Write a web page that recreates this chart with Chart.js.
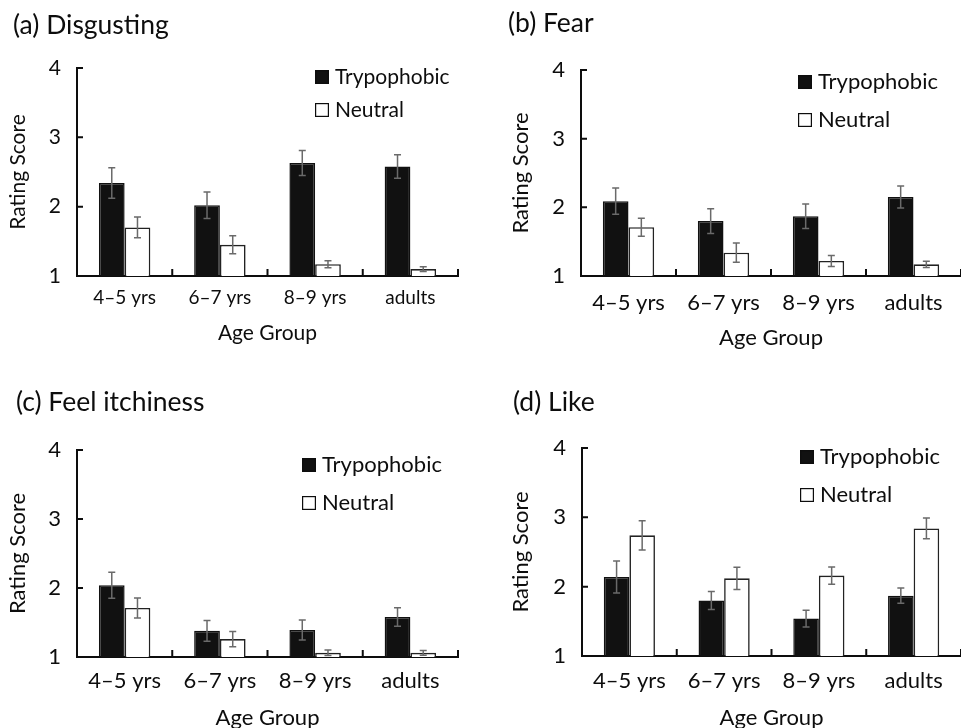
<!DOCTYPE html>
<html>
<head>
<meta charset="utf-8">
<script src="https://cdn.jsdelivr.net/npm/chart.js@4.4.1/dist/chart.umd.min.js"></script>
<style>
html,body{margin:0;padding:0;background:#fff;}
body{width:961px;height:728px;position:relative;overflow:hidden;}
.panel{position:absolute;}
canvas{display:block;}
</style>
</head>
<body>
<div class="panel" style="left:0;top:0;"><canvas id="cA" width="480" height="360"></canvas></div>
<div class="panel" style="left:480px;top:0;"><canvas id="cB" width="481" height="360"></canvas></div>
<div class="panel" style="left:0;top:360px;"><canvas id="cC" width="480" height="368"></canvas></div>
<div class="panel" style="left:480px;top:360px;"><canvas id="cD" width="481" height="368"></canvas></div>
<script>
// ---- data ----
const categories = ['4–5 yrs', '6–7 yrs', '8–9 yrs', 'adults'];
const seriesNames = ['Trypophobic', 'Neutral'];
const yTicks = [1, 2, 3, 4];
const xAxisTitle = 'Age Group';
const yAxisTitle = 'Rating Score';

const disgustTryp    = [2.34, 2.02, 2.63, 2.58];
const disgustTrypErr = [0.22, 0.19, 0.18, 0.17];
const disgustNeut    = [1.70, 1.45, 1.17, 1.10];
const disgustNeutErr = [0.15, 0.13, 0.05, 0.035];

const fearTryp    = [2.09, 1.80, 1.87, 2.15];
const fearTrypErr = [0.19, 0.18, 0.18, 0.16];
const fearNeut    = [1.71, 1.34, 1.22, 1.17];
const fearNeutErr = [0.13, 0.14, 0.08, 0.045];

const itchTryp    = [2.04, 1.38, 1.39, 1.58];
const itchTrypErr = [0.19, 0.15, 0.145, 0.135];
const itchNeut    = [1.71, 1.26, 1.06, 1.06];
const itchNeutErr = [0.145, 0.11, 0.04, 0.035];

const likeTryp    = [2.14, 1.80, 1.54, 1.87];
const likeTrypErr = [0.23, 0.13, 0.12, 0.11];
const likeNeut    = [2.74, 2.12, 2.16, 2.84];
const likeNeutErr = [0.21, 0.16, 0.125, 0.15];

// ---- styling / layout ----
const FONT = 'Lato, "Noto Sans", sans-serif';
const INK = '#0d0d0d';
const ERR = '#6a6a6a';

const panels = [
  {id:'cA', title:'(a) Disgusting', t:disgustTryp, te:disgustTrypErr, n:disgustNeut, ne:disgustNeutErr,
   g:{w:480,h:360,padLeft:13,padRight:22,chartLeft:77,titleC:25,chartTop:68,chartBottom:276,yTitleX:18,
      tickPad:10,xTitleC:333,legX:238,legY:[9,42],fs:19,ls:21,ys:21,ts:26.5}},
  {id:'cB', title:'(b) Fear', t:fearTryp, te:fearTrypErr, n:fearNeut, ne:fearNeutErr,
   g:{w:481,h:360,padLeft:28,padRight:0,chartLeft:101,titleC:23,chartTop:70,chartBottom:276,yTitleX:41,
      tickPad:14,xTitleC:338,legX:217,legY:[12,50],fs:22,ls:22,ys:22,ts:26.5}},
  {id:'cC', title:'(c) Feel itchiness', t:itchTryp, te:itchTrypErr, n:itchNeut, ne:itchNeutErr,
   g:{w:480,h:368,padLeft:16,padRight:22,chartLeft:77,titleC:42,chartTop:90,chartBottom:297,yTitleX:18,
      tickPad:11,xTitleC:358,legX:225,legY:[15,53],fs:22,ls:22,ys:22,ts:26.5}},
  {id:'cD', title:'(d) Like', t:likeTryp, te:likeTrypErr, n:likeNeut, ne:likeNeutErr,
   g:{w:481,h:368,padLeft:33,padRight:0,chartLeft:102,titleC:42,chartTop:88,chartBottom:296,yTitleX:41,
      tickPad:12,xTitleC:358,legX:218,legY:[9,47],fs:22,ls:22,ys:22,ts:26.5}}
];

// error bars drawn through the scales
const errorBarPlugin = {
  id: 'errorBars',
  afterDatasetsDraw(chart) {
    const {ctx} = chart;
    const ys = chart.scales.y;
    chart.data.datasets.forEach((ds, di) => {
      const meta = chart.getDatasetMeta(di);
      if (!ds.errors) return;
      meta.data.forEach((bar, i) => {
        const v = ds.data[i], e = ds.errors[i];
        const top = ys.getPixelForValue(v + e);
        const bot = ys.getPixelForValue(v - e);
        const x = bar.x, c = 3.5;
        ctx.save();
        ctx.strokeStyle = ERR;
        ctx.lineWidth = 1.5;
        ctx.beginPath();
        ctx.moveTo(x, top); ctx.lineTo(x, bot);
        ctx.moveTo(x - c, top); ctx.lineTo(x + c, top);
        ctx.moveTo(x - c, bot); ctx.lineTo(x + c, bot);
        ctx.stroke();
        ctx.restore();
      });
    });
  }
};

// inward tick marks on both axes
const tickPlugin = {
  id: 'inTicks',
  afterDraw(chart) {
    const {ctx, chartArea} = chart;
    const xs = chart.scales.x, ys = chart.scales.y;
    ctx.save();
    ctx.strokeStyle = INK;
    ctx.lineWidth = 2;
    ctx.beginPath();
    ys.ticks.forEach(t => {
      if (t.value === ys.min) return;
      const y = ys.getPixelForValue(t.value);
      ctx.moveTo(chartArea.left, y); ctx.lineTo(chartArea.left + 6, y);
    });
    for (let i = 0; i < categories.length; i++) {
      const x = xs.getPixelForValue(i + 0.5);
      ctx.moveTo(x, chartArea.bottom); ctx.lineTo(x, chartArea.bottom - 7);
    }
    ctx.stroke();
    ctx.restore();
  }
};

// legend drawn inside the plot area
const boxLegendPlugin = {
  id: 'boxLegend',
  afterDraw(chart, args, opts) {
    const {ctx, chartArea} = chart;
    chart.data.datasets.forEach((ds, i) => {
      const s = opts.box;
      const x = chartArea.left + opts.x;
      const y = chartArea.top + opts.ys[i];
      ctx.save();
      ctx.fillStyle = ds.backgroundColor;
      ctx.fillRect(x, y - s / 2, s, s);
      ctx.strokeStyle = INK;
      ctx.lineWidth = 1.2;
      ctx.strokeRect(x + 0.6, y - s / 2 + 0.6, s - 1.2, s - 1.2);
      ctx.fillStyle = INK;
      ctx.font = opts.size + 'px ' + FONT;
      ctx.textBaseline = 'middle';
      ctx.textAlign = 'left';
      ctx.fillText(ds.label, x + s + opts.gap, y);
      ctx.restore();
    });
  }
};

panels.forEach(p => {
  const g = p.g;
  const lhT = g.ts * 1.2, lh = g.fs * 1.2, lhY = g.ys * 1.2;
  new Chart(document.getElementById(p.id), {
    type: 'bar',
    data: {
      labels: categories,
      datasets: [
        {label: seriesNames[0], data: p.t, errors: p.te, backgroundColor: '#111111',
         borderColor: '#111111', borderWidth: 1.5, borderSkipped: 'start'},
        {label: seriesNames[1], data: p.n, errors: p.ne, backgroundColor: '#ffffff',
         borderColor: '#222222', borderWidth: 1.6, borderSkipped: 'start'}
      ]
    },
    options: {
      responsive: false,
      animation: false,
      devicePixelRatio: 1,
      layout: {padding: {left: g.padLeft, right: g.padRight, top: 0, bottom: 0}},
      datasets: {bar: {categoryPercentage: 0.54, barPercentage: 1.0}},
      plugins: {
        legend: {display: false},
        tooltip: {enabled: false},
        title: {
          display: true, text: p.title, align: 'start', color: INK,
          font: {family: FONT, size: g.ts, weight: 'normal', lineHeight: 1.2},
          padding: {top: g.titleC - lhT / 2, bottom: g.chartTop - g.titleC - lhT / 2}
        },
        boxLegend: {x: g.legX, ys: g.legY, box: 14, gap: 6, size: g.ls}
      },
      scales: {
        x: {
          grid: {display: false, drawTicks: false},
          border: {display: true, color: INK, width: 2},
          ticks: {color: INK, font: {family: FONT, size: g.fs, lineHeight: 1.2}, padding: g.tickPad, maxRotation: 0},
          title: {display: true, text: xAxisTitle, color: INK,
                  font: {family: FONT, size: g.ys, lineHeight: 1.2},
                  padding: {top: 0, bottom: (g.h - g.xTitleC) - lhY / 2}},
          afterFit(scale) { scale.height = g.h - g.chartBottom; }
        },
        y: {
          min: 1, max: 4,
          grid: {display: false, drawTicks: false},
          border: {display: true, color: INK, width: 2},
          afterBuildTicks(scale) { scale.ticks = yTicks.map(v => ({value: v})); },
          ticks: {color: INK, font: {family: FONT, size: g.ys, lineHeight: 1.2}, padding: 16},
          title: {display: true, text: yAxisTitle, color: INK,
                  font: {family: FONT, size: g.ys, lineHeight: 1.2},
                  padding: {top: g.yTitleX - g.padLeft - lhY / 2, bottom: 0}},
          afterFit(scale) { scale.width = g.chartLeft - g.padLeft; }
        }
      }
    },
    plugins: [errorBarPlugin, tickPlugin, boxLegendPlugin]
  });
});
</script>
</body>
</html>
